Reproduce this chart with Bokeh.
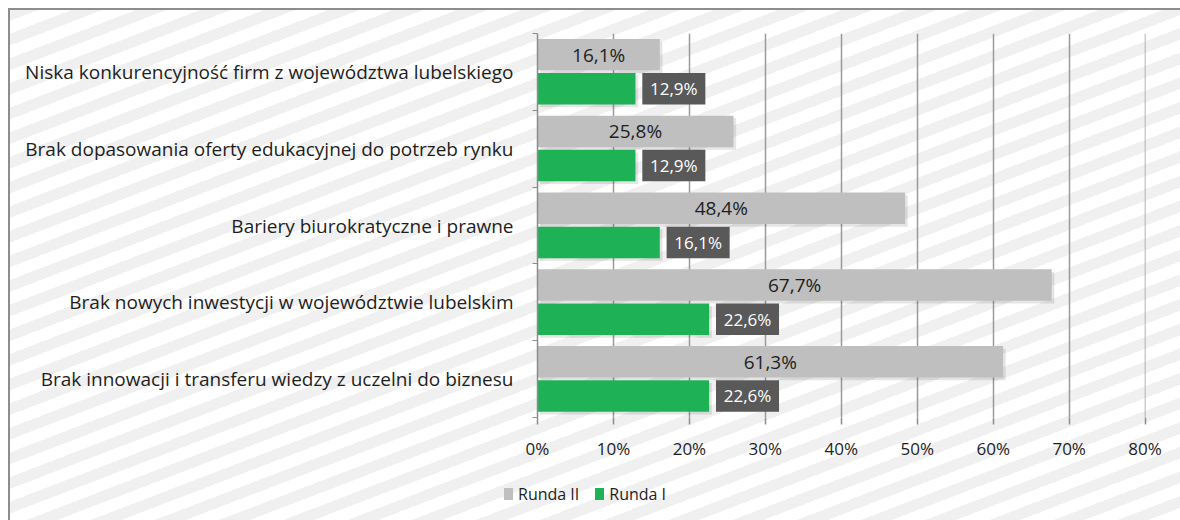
import numpy as np
from bokeh.plotting import figure
from bokeh.layouts import column
from bokeh.models import (ColumnDataSource, FixedTicker, PrintfTickFormatter, Div,
                          InlineStyleSheet)
from bokeh.core.properties import value
from bokeh.embed import file_html
from bokeh.resources import INLINE

categories = [
    "Niska konkurencyjność firm z województwa lubelskiego",
    "Brak dopasowania oferty edukacyjnej do potrzeb rynku",
    "Bariery biurokratyczne i prawne",
    "Brak nowych inwestycji w województwie lubelskim",
    "Brak innowacji i transferu wiedzy z uczelni do biznesu",
]
runda_ii = [16.1, 25.8, 48.4, 67.7, 61.3]
runda_i = [12.9, 12.9, 16.1, 22.6, 22.6]
x_ticks = [0, 10, 20, 30, 40, 50, 60, 70, 80]
series_names = ["Runda II", "Runda I"]

FONT = "Open Sans"
GRAY = "#bfbfbf"
GREEN = "#1fb155"
BOX = "#595959"
TXT = "#1e1e1e"
series_colors = [GRAY, GREEN]

n = len(categories)
ypos = (n - 0.5) - np.arange(n)
def fmt(v):
    return f"{v:.1f}".replace(".", ",") + "%"

src = ColumnDataSource(dict(
    y=ypos,
    r2=runda_ii,
    r1=runda_i,
    y2=ypos + 0.225,
    y1=ypos - 0.22,
    y2s=ypos + 0.225 - 0.035,
    y1s=ypos - 0.22 - 0.035,
    r2s=np.array(runda_ii) + 0.35,
    r1s=np.array(runda_i) + 0.35,
    r2_mid=np.array(runda_ii) / 2,
    box_l=np.array(runda_i) + 0.9,
    box_r=np.array(runda_i) + 0.9 + 8.3,
    box_mid=np.array(runda_i) + 0.9 + 4.15,
    r2_lab=[fmt(v) for v in runda_ii],
    r1_lab=[fmt(v) for v in runda_i],
))

MAIN_H = 462
FRAME_L = 537
p = figure(width=1180, height=MAIN_H, x_range=(0, 80.05), y_range=(0, n),
           output_backend="svg", toolbar_location=None,
           min_border_left=FRAME_L, min_border_right=35, min_border_top=33,
           min_border_bottom=MAIN_H - 417)
p.background_fill_color = None
p.border_fill_color = None
p.outline_line_color = None

# shadows
p.hbar(y="y2s", left=0.35, right="r2s", height=0.41, source=src, fill_color="black",
       fill_alpha=0.1, line_color=None)
p.hbar(y="y1s", left=0.35, right="r1s", height=0.41, source=src, fill_color="black",
       fill_alpha=0.1, line_color=None)

p.hbar(y="y2", left=0, right="r2", height=0.41, source=src, fill_color=GRAY, line_color=None)
p.hbar(y="y1", left=0, right="r1", height=0.41, source=src, fill_color=GREEN, line_color=None)

p.text(x="r2_mid", y="y2", text="r2_lab", source=src, text_align="center", text_baseline="middle",
       text_font=value(FONT), text_font_size="19px", text_color=TXT)
p.hbar(y="y1", left="box_l", right="box_r", height=0.41, source=src, fill_color=BOX, line_color=None)
p.text(x="box_mid", y="y1", text="r1_lab", source=src, text_align="center", text_baseline="middle",
       text_font=value(FONT), text_font_size="17px", text_color="white")

# x axis
xa = p.xaxis[0]
xa.ticker = FixedTicker(ticks=x_ticks)
xa.formatter = PrintfTickFormatter(format="%d%%")
xa.axis_line_color = None
xa.major_tick_line_color = "#8c8c8c"
xa.major_tick_line_width = 1.5
xa.major_tick_in = 0
xa.major_tick_out = 7
xa.minor_tick_line_color = None
xa.major_label_standoff = 12
xa.major_label_text_font = FONT
xa.major_label_text_font_size = "17px"
xa.major_label_text_color = TXT

# y axis
ya = p.yaxis[0]
ya.ticker = FixedTicker(ticks=list(ypos), minor_ticks=list(np.arange(n + 1)))
ya.major_label_overrides = {float(y): c for y, c in zip(ypos, categories)}
ya.axis_line_color = "#8c8c8c"
ya.axis_line_width = 1.5
ya.major_tick_line_color = None
ya.major_tick_in = 0
ya.major_tick_out = 0
ya.minor_tick_line_color = "#8c8c8c"
ya.minor_tick_in = 0
ya.minor_tick_out = 5
ya.major_label_standoff = 19
ya.major_label_text_font = FONT
ya.major_label_text_font_size = "19px"
ya.major_label_text_color = TXT

p.xgrid.grid_line_color = "#9a9a9a"
p.xgrid.grid_line_width = 1.5
p.ygrid.grid_line_color = None

# legend strip below the chart
LEG_H = 520 - MAIN_H
items_html = "".join(
    f'<span style="display:inline-block;width:9px;height:12px;background:{c};'
    f'margin-left:{0 if i == 0 else 16}px;margin-right:5px"></span>'
    f'<span>{name}</span>'
    for i, (name, c) in enumerate(zip(series_names, series_colors))
)
legend_div = Div(
    text=(f'<div style="display:flex;align-items:center;height:18px;margin-top:23px;'
          f'margin-left:504px;font-family:\'{FONT}\';font-size:16px;color:{TXT};'
          f'white-space:nowrap">{items_html}</div>'),
    width=1180, height=LEG_H, styles={"margin": "0", "padding": "0"})

layout = column(p, legend_div, spacing=0)
layout.stylesheets = [InlineStyleSheet(css="""
:host {
  background: repeating-linear-gradient(159deg, #ffffff 0px, #ffffff 12px, #f0f0f0 12px, #f0f0f0 23px);
  box-shadow: inset 8px 8px 0 #ffffff, inset 10px 10px 0 #8d8d8d;
}
""")]

open("out.html", "w").write(file_html(layout, INLINE))
